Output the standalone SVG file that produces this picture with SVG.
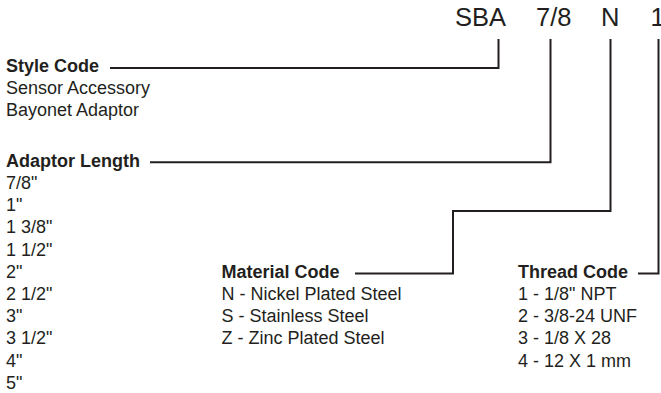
<svg xmlns="http://www.w3.org/2000/svg" width="661" height="393" viewBox="0 0 661 393">
<style>
text{font-family:"Liberation Sans",Arial,sans-serif;fill:#231f20;font-size:18px}
.b{font-weight:bold}
.top{font-size:25.5px}
.c{fill:none;stroke:#231f20;stroke-width:2}
</style>
<rect width="661" height="393" fill="#fff"/>
<g id="code">
<text class="top" x="455" y="26">SBA</text>
<text class="top" x="536" y="26">7/8</text>
<text class="top" x="601" y="26">N</text>
<text class="top" x="650.5" y="26">1</text>
</g>
<g id="style-code">
<text class="b" x="6" y="72">Style Code</text>
<text x="6" y="94.2">Sensor Accessory</text>
<text x="6" y="116.4">Bayonet Adaptor</text>
</g>
<g id="adaptor-length">
<text class="b" x="6" y="166.8">Adaptor Length</text>
<text x="6" y="189">7/8"</text>
<text x="6" y="211.2">1"</text>
<text x="6" y="233.4">1 3/8"</text>
<text x="6" y="255.6">1 1/2"</text>
<text x="6" y="277.8">2"</text>
<text x="6" y="300">2 1/2"</text>
<text x="6" y="322.2">3"</text>
<text x="6" y="344.4">3 1/2"</text>
<text x="6" y="366.6">4"</text>
<text x="6" y="388.8">5"</text>
</g>
<g id="material-code">
<text class="b" x="221.5" y="277.8">Material Code</text>
<text x="221.5" y="300">N - Nickel Plated Steel</text>
<text x="221.5" y="322.2">S - Stainless Steel</text>
<text x="221.5" y="344.4">Z - Zinc Plated Steel</text>
</g>
<g id="thread-code">
<text class="b" x="518" y="277.8">Thread Code</text>
<text x="518" y="300">1 - 1/8" NPT</text>
<text x="518" y="322.2">2 - 3/8-24 UNF</text>
<text x="518" y="344.4">3 - 1/8 X 28</text>
<text x="518" y="366.6">4 - 12 X 1 mm</text>
</g>
<g id="connectors">
<polyline class="c" points="110,68 498.5,68 498.5,39"/>
<polyline class="c" points="150,162.3 550.5,162.3 550.5,39"/>
<polyline class="c" points="355,273.5 453,273.5 453,211 610.5,211 610.5,39"/>
<polyline class="c" points="638,273.5 658.5,273.5 658.5,39"/>
</g>
</svg>
